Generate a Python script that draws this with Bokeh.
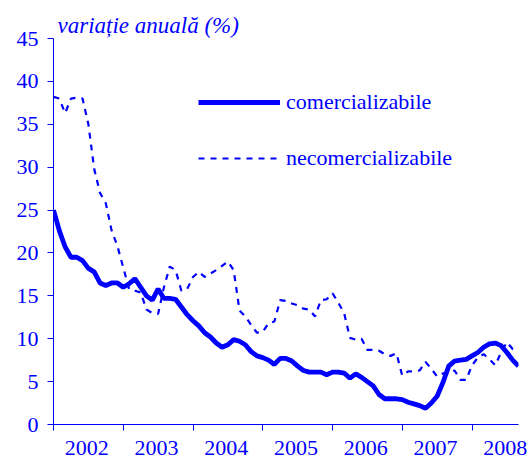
from bokeh.plotting import figure
from bokeh.models import (ColumnDataSource, FixedTicker, Range1d, Legend, LegendItem)
from bokeh.embed import file_html
from bokeh.resources import INLINE

# monthly data, Jan 2002 .. Sep 2008
comercializabile = [25.0, 22.6, 20.7, 19.5, 19.5, 19.1, 18.2, 17.8, 16.5, 16.2, 16.5, 16.5,
                    16.0, 16.4, 17.0, 16.0, 15.0, 14.5, 15.8, 14.7, 14.7, 14.6, 13.7, 12.8,
                    12.1, 11.5, 10.7, 10.2, 9.5, 9.0, 9.3, 9.9, 9.7, 9.3, 8.5, 8.0,
                    7.8, 7.5, 7.0, 7.7, 7.7, 7.4, 6.8, 6.3, 6.1, 6.1, 6.1, 5.8,
                    6.1, 6.1, 6.0, 5.4, 5.9, 5.5, 5.0, 4.5, 3.5, 3.0, 3.0, 3.0,
                    2.9, 2.6, 2.4, 2.2, 1.9, 2.5, 3.3, 4.9, 6.8, 7.4, 7.5, 7.6,
                    8.0, 8.4, 9.0, 9.4, 9.5, 9.2, 8.4, 7.5, 6.8]
necomercializabile = [38.2, 38.0, 36.3, 38.0, 38.1, 38.0, 35.0, 29.8, 27.0, 25.8, 22.6, 20.8,
                      18.3, 15.8, 15.6, 15.4, 13.4, 13.0, 12.9, 16.0, 18.4, 18.0, 15.6, 15.8,
                      17.2, 17.8, 17.2, 17.6, 18.0, 18.5, 19.0, 18.0, 13.3, 12.6, 11.6, 10.7,
                      10.8, 11.8, 12.0, 14.5, 14.4, 14.1, 13.9, 13.5, 13.4, 12.6, 14.5, 14.6,
                      15.3, 14.2, 13.0, 10.1, 9.9, 10.0, 8.7, 8.7, 8.6, 8.2, 8.0, 8.3,
                      5.7, 6.2, 6.2, 6.3, 7.3, 6.5, 5.6, 5.95, 6.0, 6.3, 5.2, 5.2,
                      6.9, 7.8, 8.2, 7.6, 6.9, 8.4, 9.6, 8.8, 8.5]
years = ["2002", "2003", "2004", "2005", "2006", "2007", "2008"]
y_ticks = [0, 5, 10, 15, 20, 25, 30, 35, 40, 45]
title_text = "variație anuală (%)"
series_names = ["comercializabile", "necomercializabile"]

months = list(range(len(comercializabile)))
src = ColumnDataSource(dict(m=months, c=comercializabile, n=necomercializabile))

BLUE = "#0000FF"
FONT = "'Liberation Serif', 'Times New Roman', serif"

p = figure(width=531, height=459, output_backend="svg", toolbar_location=None,
           x_range=Range1d(0, len(months) - 1), y_range=Range1d(0, 45),
           min_border_left=53, min_border_right=13, min_border_top=38, min_border_bottom=35)
p.outline_line_color = None
p.xgrid.visible = False
p.ygrid.visible = False
p.background_fill_color = "white"

r1 = p.line("m", "c", source=src, line_color=BLUE, line_width=4.8)
r2 = p.line("m", "n", source=src, line_color=BLUE, line_width=2.2, line_dash="6 6")

# title
p.title.text = title_text
p.title.align = "left"
p.title.offset = 4
p.title.standoff = 2
p.title.text_font = FONT
p.title.text_font_style = "italic"
p.title.text_font_size = "23px"
p.title.text_color = BLUE

# y axis
p.yaxis.ticker = FixedTicker(ticks=y_ticks)
p.yaxis.axis_line_color = BLUE
p.yaxis.major_tick_line_color = BLUE
p.yaxis.major_tick_out = 6
p.yaxis.major_tick_in = 0
p.yaxis.minor_tick_line_color = None
p.yaxis.major_label_text_font = FONT
p.yaxis.major_label_text_font_size = "22px"
p.yaxis.major_label_text_color = BLUE
p.yaxis.major_label_standoff = 9

# x axis: year labels between year-boundary ticks
p.xaxis.ticker = FixedTicker(ticks=[12 * i + 5.7 for i in range(len(years))],
                             minor_ticks=[12 * i for i in range(len(years))])
p.xaxis.major_label_overrides = {12 * i + 5.7: y for i, y in enumerate(years)}
p.xaxis.axis_line_color = BLUE
p.xaxis.major_tick_line_color = None
p.xaxis.major_tick_out = 0
p.xaxis.major_tick_in = 0
p.xaxis.minor_tick_line_color = BLUE
p.xaxis.minor_tick_out = 6
p.xaxis.minor_tick_in = 0
p.xaxis.major_label_text_font = FONT
p.xaxis.major_label_text_font_size = "22px"
p.xaxis.major_label_text_color = BLUE
p.xaxis.major_label_standoff = 10

legend = Legend(items=[LegendItem(label=series_names[0], renderers=[r1]),
                       LegendItem(label=series_names[1], renderers=[r2])],
                location=(145, 253), orientation="vertical",
                glyph_width=82, glyph_height=22, label_height=22,
                label_standoff=6, spacing=30, padding=0, margin=0,
                border_line_color=None, background_fill_alpha=0,
                label_text_font=FONT, label_text_font_size="22px", label_text_color=BLUE)
p.add_layout(legend)

open("out.html", "w").write(file_html(p, INLINE))
